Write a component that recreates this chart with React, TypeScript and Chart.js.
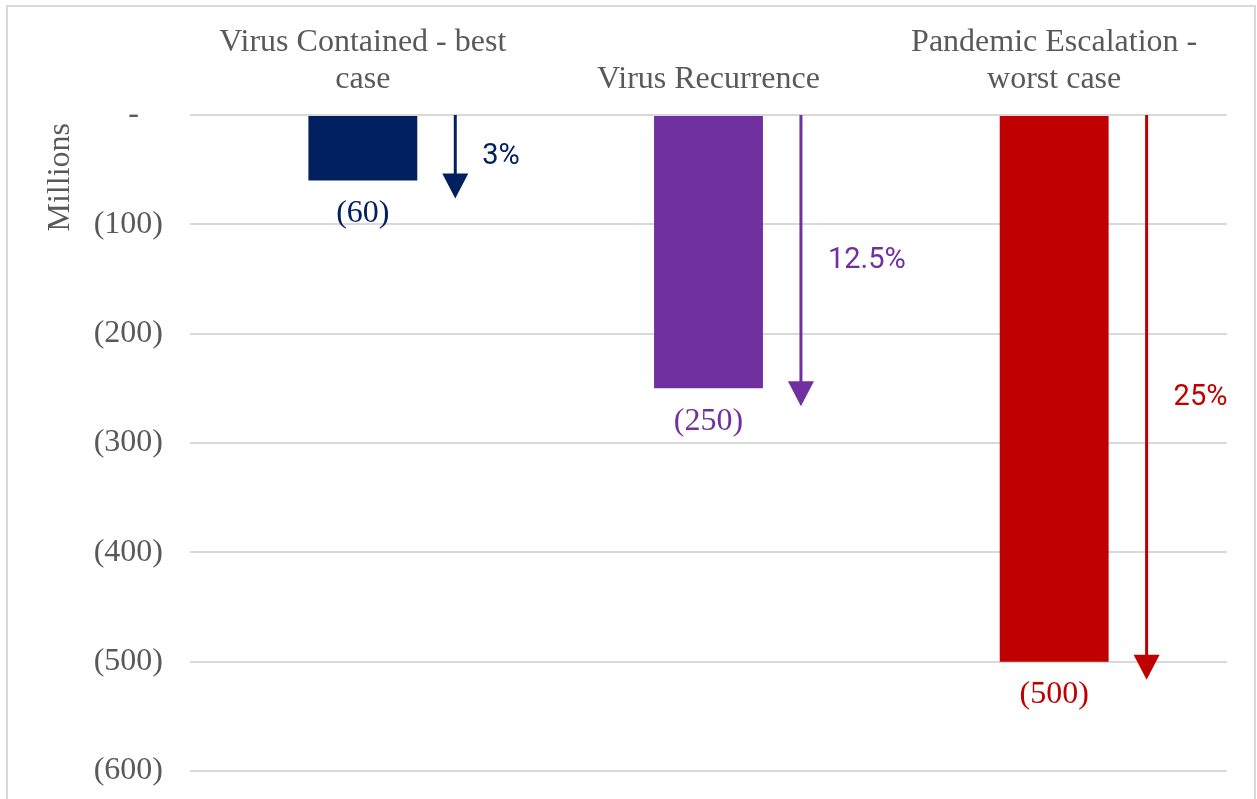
import React, { useEffect, useRef } from "react";
import { Chart, registerables } from "chart.js";

Chart.register(...registerables);

const categories: (string | string[])[] = [
  ["Virus Contained - best", "case"],
  "Virus Recurrence",
  ["Pandemic Escalation -", "worst case"],
];
const values = [-60, -250, -500];
const shares = ["3%", "12.5%", "25%"];
const barColors = ["#002060", "#7030A0", "#C00000"];
const yMin = -600;
const yMax = 0;
const yStep = 100;

const SERIF = "'Liberation Serif', 'Times New Roman', serif";
const SANS = "Roboto, 'Noto Sans', sans-serif";
const GREY = "#595959";

const fmtTick = (v: number) => (v === 0 ? "-   " : "(" + Math.abs(v) + ")");

const annotate = {
  id: "annotate",
  afterDatasetsDraw(chart: any) {
    const ctx = chart.ctx;
    const meta = chart.getDatasetMeta(0);
    const yScale = chart.scales.y;
    const y0 = yScale.getPixelForValue(0);
    meta.data.forEach((bar: any, i: number) => {
      const color = barColors[i];
      const { x, y, width } = bar.getProps(["x", "y", "width"], true);
      ctx.save();
      // value label below bar
      ctx.fillStyle = color;
      ctx.font = "32px " + SERIF;
      ctx.textAlign = "center";
      ctx.textBaseline = "middle";
      ctx.fillText(fmtTick(values[i]), x, y + 33);
      // arrow
      const ax = x + width / 2 + 38;
      const tip = y + 18;
      const headH = 25;
      const headW = 26;
      ctx.strokeStyle = color;
      ctx.lineWidth = 3;
      ctx.beginPath();
      ctx.moveTo(ax, y0);
      ctx.lineTo(ax, tip - headH + 1);
      ctx.stroke();
      ctx.beginPath();
      ctx.moveTo(ax - headW / 2, tip - headH);
      ctx.lineTo(ax + headW / 2, tip - headH);
      ctx.lineTo(ax, tip);
      ctx.closePath();
      ctx.fill();
      // percentage label
      ctx.font = "29px " + SANS;
      ctx.textAlign = "left";
      ctx.textBaseline = "middle";
      ctx.fillText(shares[i], ax + 27, (y0 + tip) / 2);
      ctx.restore();
    });
  },
};

export default function App() {
  const ref = useRef<HTMLCanvasElement | null>(null);
  useEffect(() => {
    if (!ref.current) return;
    const chart = new Chart(ref.current, {
      type: "bar",
      data: {
        labels: categories as any,
        datasets: [
          {
            data: values,
            backgroundColor: barColors,
            borderWidth: 0,
            barPercentage: 0.315,
            categoryPercentage: 1,
          },
        ],
      },
      options: {
        responsive: false,
        animation: false,
        layout: { padding: { left: 0, top: 0, right: 27, bottom: 56 } },
        plugins: { legend: { display: false }, tooltip: { enabled: false } },
        scales: {
          x: {
            position: "top",
            grid: { display: false, drawTicks: false },
            border: { display: false },
            ticks: {
              color: GREY,
              font: { family: SERIF, size: 32, lineHeight: 1.15 },
              padding: 17,
              maxRotation: 0,
              autoSkip: false,
            },
            afterFit(scale: any) {
              scale.height = 108;
            },
          },
          y: {
            min: yMin,
            max: yMax,
            grid: { color: "#D9D9D9", lineWidth: 2, drawTicks: false },
            border: { display: false },
            ticks: {
              stepSize: yStep,
              color: GREY,
              font: { family: SERIF, size: 32 },
              padding: 27,
              callback: (v: any) => fmtTick(Number(v)),
            },
            title: {
              display: true,
              text: "Millions ",
              align: "end",
              color: GREY,
              font: { family: SERIF, size: 32 },
              padding: { top: 33, bottom: 0 },
            },
            afterFit(scale: any) {
              scale.width = 182;
            },
          },
        },
      },
      plugins: [annotate],
    } as any);
    return () => chart.destroy();
  }, []);
  return (
    <div
      style={{
        position: "fixed",
        left: 6,
        top: 5,
        width: 1246,
        height: 830,
        border: "2px solid #D9D9D9",
        background: "#fff",
      }}
    >
      <canvas ref={ref} width={1246} height={820} style={{ display: "block" }} />
    </div>
  );
}
